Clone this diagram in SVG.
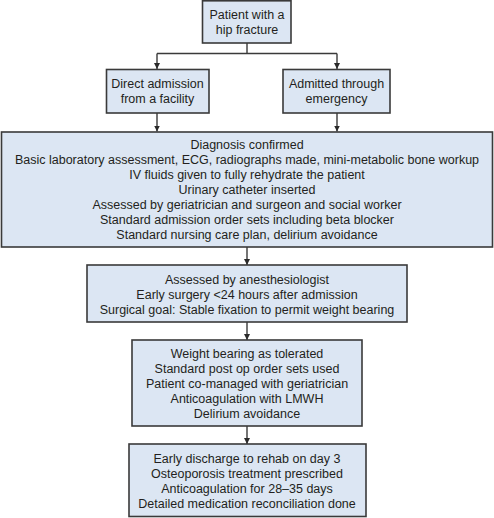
<svg xmlns="http://www.w3.org/2000/svg" width="494" height="518" viewBox="0 0 494 518">
<defs>
<style>
.box{fill:#dce6f3;stroke:#3a3a3a;stroke-width:1.6}
.t{font-family:"Liberation Sans",Arial,sans-serif;font-size:12.5px;fill:#231f20;text-anchor:middle;dominant-baseline:central}
.c{fill:none;stroke:#3a3a3a;stroke-width:1.4}
</style>
<marker id="ah" viewBox="0 0 8 8" refX="8" refY="4" markerWidth="6" markerHeight="6" markerUnits="userSpaceOnUse" orient="auto">
<path d="M0,0 L8,4 L0,8 z" fill="#2a2a2a"/>
</marker>
</defs>
<rect width="494" height="518" fill="#ffffff"/>
<g id="connectors">
<path class="c" d="M247,43 V53.5 M157,53.5 H337"/>
<path class="c" d="M157,53.5 V69" marker-end="url(#ah)"/>
<path class="c" d="M337,53.5 V69" marker-end="url(#ah)"/>
<path class="c" d="M157,113 V131.5" marker-end="url(#ah)"/>
<path class="c" d="M337,113 V131.5" marker-end="url(#ah)"/>
<path class="c" d="M247,247 V265" marker-end="url(#ah)"/>
<path class="c" d="M247,322 V340" marker-end="url(#ah)"/>
<path class="c" d="M247,426 V444" marker-end="url(#ah)"/>
</g>
<g id="n1">
<rect class="box" x="202.5" y="0.8" width="88.5" height="42.2"/>
<text class="t" x="247" y="14.5">Patient with a</text>
<text class="t" x="247" y="29.5">hip fracture</text>
</g>
<g id="n2">
<rect class="box" x="106.5" y="69.5" width="102.5" height="43.5"/>
<text class="t" x="157.5" y="83.5">Direct admission</text>
<text class="t" x="157.5" y="98.5">from a facility</text>
</g>
<g id="n3">
<rect class="box" x="283" y="69.5" width="107" height="43.5"/>
<text class="t" x="336.5" y="83.5">Admitted through</text>
<text class="t" x="336.5" y="98.5">emergency</text>
</g>
<g id="n4">
<rect class="box" x="1.5" y="132" width="491" height="115"/>
<text class="t" x="247" y="144.5">Diagnosis confirmed</text>
<text class="t" x="247" y="159.5">Basic laboratory assessment, ECG, radiographs made, mini-metabolic bone workup</text>
<text class="t" x="247" y="174.5">IV fluids given to fully rehydrate the patient</text>
<text class="t" x="247" y="189.5">Urinary catheter inserted</text>
<text class="t" x="247" y="204.5">Assessed by geriatrician and surgeon and social worker</text>
<text class="t" x="247" y="219.5">Standard admission order sets including beta blocker</text>
<text class="t" x="247" y="234.5">Standard nursing care plan, delirium avoidance</text>
</g>
<g id="n5">
<rect class="box" x="87" y="265" width="320" height="57"/>
<text class="t" x="247" y="279.5">Assessed by anesthesiologist</text>
<text class="t" x="247" y="294.5">Early surgery &lt;24 hours after admission</text>
<text class="t" x="247" y="309.5">Surgical goal: Stable fixation to permit weight bearing</text>
</g>
<g id="n6">
<rect class="box" x="132" y="340" width="230" height="86"/>
<text class="t" x="247" y="353.5">Weight bearing as tolerated</text>
<text class="t" x="247" y="368.5">Standard post op order sets used</text>
<text class="t" x="247" y="383.5">Patient co-managed with geriatrician</text>
<text class="t" x="247" y="398.5">Anticoagulation with LMWH</text>
<text class="t" x="247" y="413.5">Delirium avoidance</text>
</g>
<g id="n7">
<rect class="box" x="129" y="444" width="237" height="72.5"/>
<text class="t" x="247" y="458.5">Early discharge to rehab on day 3</text>
<text class="t" x="247" y="473.5">Osteoporosis treatment prescribed</text>
<text class="t" x="247" y="488.5">Anticoagulation for 28–35 days</text>
<text class="t" x="247" y="503.5">Detailed medication reconciliation done</text>
</g>
</svg>
